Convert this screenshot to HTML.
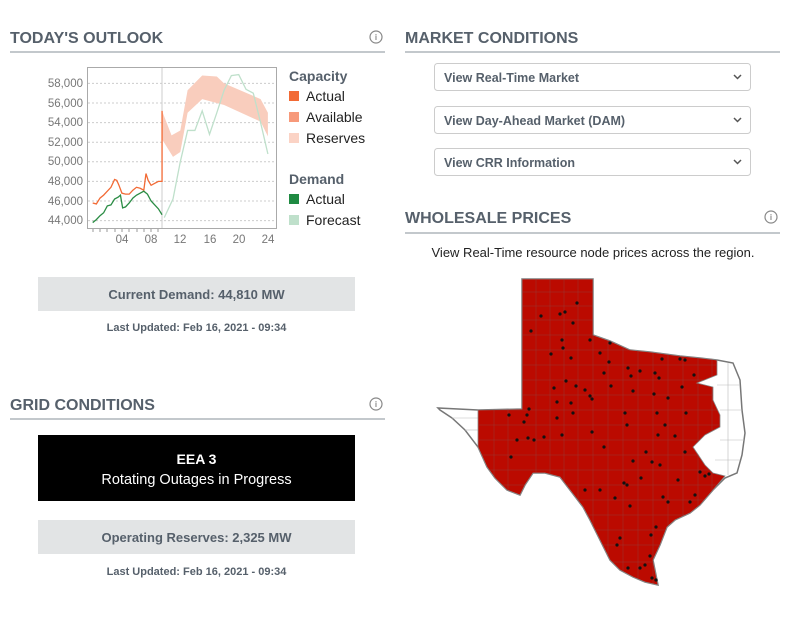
<!DOCTYPE html>
<html><head><meta charset="utf-8"><style>
html,body{margin:0;padding:0;background:#fff;width:800px;height:619px;overflow:hidden}
svg{display:block;font-family:"Liberation Sans",Arial,sans-serif}
</style></head><body>
<svg width="800" height="619" viewBox="0 0 800 619" xmlns="http://www.w3.org/2000/svg">
<defs>
<clipPath id="tx"><polygon points="522,279 593,279 593,335 610,341 630,350 650,352 680,356 700,358 717,360 717,375 697,383 713,387 713,400 720,415 720,427 705,435 693,447 705,465 713,473 725,476 713,490 700,505 690,513 675,520 667,527 660,545 653,560 658,585 645,582 633,577 620,570 610,560 600,540 590,520 583,507 570,490 560,477 545,473 533,473 525,485 520,495 507,490 495,478 487,467 478,447 478,410 522,409"/></clipPath>
</defs>
<!-- Headers -->
<g font-weight="bold" font-size="16" fill="#56606b">
<text x="10" y="43">TODAY'S OUTLOOK</text>
<text x="405" y="43">MARKET CONDITIONS</text>
<text x="405" y="223">WHOLESALE PRICES</text>
<text x="10" y="410">GRID CONDITIONS</text>
</g>
<g stroke="#c3c8cc" stroke-width="2">
<line x1="10" y1="52" x2="385" y2="52"/>
<line x1="405" y1="52" x2="780" y2="52"/>
<line x1="405" y1="233" x2="780" y2="233"/>
<line x1="10" y1="419" x2="385" y2="419"/>
</g>
<g fill="none" stroke="#888" stroke-width="1.2">
<circle cx="376" cy="37" r="6"/><circle cx="771" cy="217" r="6"/><circle cx="376" cy="404" r="6"/>
</g>
<g fill="#888" font-size="8" text-anchor="middle" font-weight="bold">
<text x="376" y="40">i</text><text x="771" y="220">i</text><text x="376" y="407">i</text>
</g>

<!-- Chart -->
<rect x="87.5" y="67.5" width="189" height="161" fill="none" stroke="#aaa"/>
<g stroke="#ccc" stroke-dasharray="2,2">
<line x1="88" y1="83.4" x2="276" y2="83.4"/><line x1="88" y1="103" x2="276" y2="103"/>
<line x1="88" y1="122.6" x2="276" y2="122.6"/><line x1="88" y1="142.2" x2="276" y2="142.2"/>
<line x1="88" y1="161.8" x2="276" y2="161.8"/><line x1="88" y1="181.4" x2="276" y2="181.4"/>
<line x1="88" y1="201" x2="276" y2="201"/><line x1="88" y1="220.6" x2="276" y2="220.6"/>
</g>
<line x1="162" y1="68" x2="162" y2="228" stroke="#ccc"/>
<g font-size="11.5" fill="#777" text-anchor="end">
<text x="83" y="87">58,000</text><text x="83" y="107">56,000</text><text x="83" y="126">54,000</text>
<text x="83" y="146">52,000</text><text x="83" y="165">50,000</text><text x="83" y="185">48,000</text>
<text x="83" y="205">46,000</text><text x="83" y="224">44,000</text>
</g>
<g font-size="11.5" fill="#777" text-anchor="middle">
<text x="122" y="243">04</text><text x="151" y="243">08</text><text x="180" y="243">12</text>
<text x="210" y="243">16</text><text x="239" y="243">20</text><text x="268" y="243">24</text>
</g>
<g stroke="#999"><line x1="93" y1="229" x2="93" y2="232"/><line x1="100" y1="229" x2="100" y2="232"/><line x1="107" y1="229" x2="107" y2="232"/><line x1="115" y1="229" x2="115" y2="232"/><line x1="122" y1="229" x2="122" y2="232"/><line x1="129" y1="229" x2="129" y2="232"/><line x1="137" y1="229" x2="137" y2="232"/><line x1="144" y1="229" x2="144" y2="232"/><line x1="151" y1="229" x2="151" y2="232"/><line x1="158" y1="229" x2="158" y2="232"/></g>
<g transform="translate(92.7,220.6) scale(7.3,-9.8)">
<polygon fill="#f9cdbd" points="9.5,11.2 10.8,8.7 12,9.2 13,13.3 15,14.8 17,14.7 18,14 23,12.4 24,11 24,8.6 23,10.1 18,11.8 15,12.4 13,11 12,7 11,6.5 9.5,8.3"/>
<polyline fill="none" stroke="#bfe0cb" stroke-width="1.3" vector-effect="non-scaling-stroke" points="9.8,0.3 11,2.2 12,6 13,9.2 14,9.2 15,11.2 16,8.8 17,11 18,13.3 19,14.8 20,14.9 21,13.4 22,13 23,10 24,6.8"/>
<polyline fill="none" stroke="#f26a35" stroke-width="1.3" vector-effect="non-scaling-stroke" points="0,1.8 0.5,1.7 1,2.3 1.5,2.6 2,3 2.5,3.4 3,4.2 3.3,4.1 3.6,3.6 4,2.8 4.5,2.7 5,2.7 5.5,3.1 6,3.4 6.5,3.3 7,3.1 7.3,4.8 7.6,4.1 8,3.6 8.5,3.8 9,4 9.5,4 9.5,11.2"/>
<polyline fill="none" stroke="#2a8c44" stroke-width="1.3" vector-effect="non-scaling-stroke" points="0,-0.2 0.5,0.1 1,0.5 1.5,0.8 2,1.5 2.5,1.6 3,2.2 3.5,2.4 3.8,2.6 4.1,1.3 4.5,1.4 5,1.8 5.5,2.3 6,2.6 6.5,2.8 7,3 7.5,2.7 8,2 8.5,1.6 9,1.2 9.5,0.6"/>
</g>
<g font-size="14">
<text x="289" y="81" font-weight="bold" fill="#56606b">Capacity</text>
<rect x="289" y="91" width="10" height="10" fill="#f26a35"/><text x="306" y="101" fill="#222">Actual</text>
<rect x="289" y="112" width="10" height="10" fill="#f7997a"/><text x="306" y="122" fill="#222">Available</text>
<rect x="289" y="133" width="10" height="10" fill="#fbd3c5"/><text x="306" y="143" fill="#222">Reserves</text>
<text x="289" y="184" font-weight="bold" fill="#56606b">Demand</text>
<rect x="289" y="194" width="10" height="10" fill="#1f8a42"/><text x="306" y="204" fill="#222">Actual</text>
<rect x="289" y="215" width="10" height="10" fill="#bfe0cb"/><text x="306" y="225" fill="#222">Forecast</text>
</g>

<!-- Left boxes -->
<rect x="38" y="277" width="317" height="34" fill="#e2e4e5"/>
<text x="196.5" y="299" text-anchor="middle" font-size="13" font-weight="bold" fill="#56606b">Current Demand: 44,810 MW</text>
<text x="196.5" y="331" text-anchor="middle" font-size="11" font-weight="bold" fill="#56606b">Last Updated: Feb 16, 2021 - 09:34</text>
<rect x="38" y="435" width="317" height="66" fill="#000"/>
<text x="196.5" y="464" text-anchor="middle" font-size="14" font-weight="bold" fill="#fff">EEA 3</text>
<text x="196.5" y="484" text-anchor="middle" font-size="14.5" fill="#fff">Rotating Outages in Progress</text>
<rect x="38" y="520" width="317" height="34" fill="#e2e4e5"/>
<text x="196.5" y="542" text-anchor="middle" font-size="13" font-weight="bold" fill="#56606b">Operating Reserves: 2,325 MW</text>
<text x="196.5" y="575" text-anchor="middle" font-size="11" font-weight="bold" fill="#56606b">Last Updated: Feb 16, 2021 - 09:34</text>

<!-- Selects -->
<g fill="#fff" stroke="#ccc">
<rect x="434.5" y="63.5" width="316" height="27" rx="3"/>
<rect x="434.5" y="106.5" width="316" height="27" rx="3"/>
<rect x="434.5" y="148.5" width="316" height="27" rx="3"/>
</g>
<g font-size="12.5" font-weight="bold" fill="#56606b">
<text x="444" y="82">View Real-Time Market</text>
<text x="444" y="125">View Day-Ahead Market (DAM)</text>
<text x="444" y="167">View CRR Information</text>
</g>
<g fill="none" stroke="#555" stroke-width="1.5">
<polyline points="734,75 737.5,78.5 741,75"/><polyline points="734,118 737.5,121.5 741,118"/><polyline points="734,160 737.5,163.5 741,160"/>
</g>
<text x="593" y="257" text-anchor="middle" font-size="13" fill="#222">View Real-Time resource node prices across the region.</text>

<!-- Texas map -->
<polygon fill="#fff" stroke="#777" stroke-width="1.5" points="522,279 593,279 593,335 610,341 630,350 650,352 680,356 700,358 717,360 733,363 740,380 742,410 745,433 742,455 737,473 725,478 713,490 700,505 690,513 675,520 667,527 660,545 653,560 658,585 645,582 633,577 620,570 610,560 600,540 590,520 583,507 570,490 560,477 545,473 533,473 525,485 520,495 507,490 495,478 487,467 478,447 465,430 452,418 440,410 438,408 478,410 522,409"/>
<g stroke="#bbb" stroke-width="0.6" fill="none">
<line x1="452" y1="418" x2="478" y2="418"/><line x1="465" y1="430" x2="478" y2="430"/>
<line x1="717" y1="385" x2="740" y2="385"/><line x1="720" y1="410" x2="742" y2="410"/><line x1="720" y1="440" x2="744" y2="440"/><line x1="715" y1="460" x2="740" y2="460"/>
<line x1="728" y1="363" x2="728" y2="475"/>
</g>
<polygon fill="#bb0a00" stroke="#888" stroke-width="0.8" points="522,279 593,279 593,335 610,341 630,350 650,352 680,356 700,358 717,360 717,375 697,383 713,387 713,400 720,415 720,427 705,435 693,447 705,465 713,473 725,476 713,490 700,505 690,513 675,520 667,527 660,545 653,560 658,585 645,582 633,577 620,570 610,560 600,540 590,520 583,507 570,490 560,477 545,473 533,473 525,485 520,495 507,490 495,478 487,467 478,447 478,410 522,409"/>
<g stroke="#8a4a48" stroke-width="0.5" fill="none" opacity="0.7" clip-path="url(#tx)">
<line x1="470" y1="292" x2="750" y2="292"/><line x1="470" y1="306" x2="750" y2="306"/><line x1="470" y1="320" x2="750" y2="320"/>
<line x1="470" y1="335" x2="750" y2="335"/><line x1="470" y1="350" x2="750" y2="350"/><line x1="470" y1="365" x2="750" y2="365"/>
<line x1="470" y1="380" x2="750" y2="380"/><line x1="470" y1="395" x2="750" y2="395"/><line x1="470" y1="410" x2="750" y2="410"/>
<line x1="470" y1="425" x2="750" y2="425"/><line x1="470" y1="440" x2="750" y2="440"/><line x1="470" y1="455" x2="750" y2="455"/>
<line x1="470" y1="470" x2="750" y2="470"/><line x1="470" y1="485" x2="750" y2="485"/><line x1="470" y1="500" x2="750" y2="500"/>
<line x1="470" y1="515" x2="750" y2="515"/><line x1="470" y1="530" x2="750" y2="530"/><line x1="470" y1="545" x2="750" y2="545"/><line x1="470" y1="562" x2="750" y2="562"/>
<line x1="494" y1="270" x2="494" y2="600"/><line x1="508" y1="270" x2="508" y2="600"/>
<line x1="536" y1="270" x2="536" y2="600"/><line x1="550" y1="270" x2="550" y2="600"/><line x1="564" y1="270" x2="564" y2="600"/>
<line x1="578" y1="270" x2="578" y2="600"/><line x1="593" y1="270" x2="593" y2="600"/><line x1="608" y1="270" x2="608" y2="600"/>
<line x1="623" y1="270" x2="623" y2="600"/><line x1="638" y1="270" x2="638" y2="600"/><line x1="653" y1="270" x2="653" y2="600"/>
<line x1="668" y1="270" x2="668" y2="600"/><line x1="683" y1="270" x2="683" y2="600"/><line x1="698" y1="270" x2="698" y2="600"/><line x1="712" y1="270" x2="712" y2="600"/>
</g>
<g fill="#111">
<circle cx="541" cy="316" r="1.6"/><circle cx="560" cy="314" r="1.6"/><circle cx="565" cy="312" r="1.6"/><circle cx="577" cy="303" r="1.6"/><circle cx="573" cy="323" r="1.6"/><circle cx="531" cy="331" r="1.6"/>
<circle cx="562" cy="340" r="1.6"/><circle cx="563" cy="348" r="1.6"/><circle cx="571" cy="358" r="1.6"/><circle cx="551" cy="354" r="1.6"/><circle cx="590" cy="340" r="1.6"/><circle cx="610" cy="343" r="1.6"/>
<circle cx="600" cy="353" r="1.6"/><circle cx="609" cy="362" r="1.6"/><circle cx="604" cy="373" r="1.6"/><circle cx="628" cy="368" r="1.6"/><circle cx="640" cy="371" r="1.6"/><circle cx="631" cy="376" r="1.6"/>
<circle cx="655" cy="373" r="1.6"/><circle cx="662" cy="359" r="1.6"/><circle cx="680" cy="359" r="1.6"/><circle cx="685" cy="360" r="1.6"/><circle cx="694" cy="375" r="1.6"/><circle cx="659" cy="378" r="1.6"/>
<circle cx="554" cy="388" r="1.6"/><circle cx="566" cy="381" r="1.6"/><circle cx="576" cy="386" r="1.6"/><circle cx="585" cy="390" r="1.6"/><circle cx="590" cy="396" r="1.6"/><circle cx="592" cy="399" r="1.6"/>
<circle cx="571" cy="403" r="1.6"/><circle cx="557" cy="402" r="1.6"/><circle cx="611" cy="386" r="1.6"/><circle cx="633" cy="391" r="1.6"/><circle cx="654" cy="394" r="1.6"/><circle cx="668" cy="398" r="1.6"/>
<circle cx="682" cy="387" r="1.6"/><circle cx="529" cy="409" r="1.6"/><circle cx="527" cy="415" r="1.6"/><circle cx="509" cy="415" r="1.6"/><circle cx="524" cy="422" r="1.6"/><circle cx="557" cy="418" r="1.6"/>
<circle cx="573" cy="413" r="1.6"/><circle cx="625" cy="413" r="1.6"/><circle cx="627" cy="425" r="1.6"/><circle cx="657" cy="413" r="1.6"/><circle cx="686" cy="413" r="1.6"/><circle cx="665" cy="425" r="1.6"/>
<circle cx="517" cy="440" r="1.6"/><circle cx="528" cy="438" r="1.6"/><circle cx="534" cy="440" r="1.6"/><circle cx="544" cy="437" r="1.6"/><circle cx="562" cy="435" r="1.6"/><circle cx="592" cy="432" r="1.6"/>
<circle cx="511" cy="457" r="1.6"/><circle cx="604" cy="447" r="1.6"/><circle cx="658" cy="435" r="1.6"/><circle cx="675" cy="436" r="1.6"/><circle cx="685" cy="452" r="1.6"/><circle cx="660" cy="465" r="1.6"/>
<circle cx="646" cy="452" r="1.6"/><circle cx="652" cy="462" r="1.6"/><circle cx="633" cy="461" r="1.6"/><circle cx="624" cy="483" r="1.6"/><circle cx="627" cy="485" r="1.6"/><circle cx="641" cy="478" r="1.6"/>
<circle cx="585" cy="490" r="1.6"/><circle cx="600" cy="490" r="1.6"/><circle cx="615" cy="498" r="1.6"/><circle cx="630" cy="506" r="1.6"/><circle cx="663" cy="497" r="1.6"/><circle cx="678" cy="480" r="1.6"/>
<circle cx="700" cy="472" r="1.6"/><circle cx="705" cy="476" r="1.6"/><circle cx="709" cy="474" r="1.6"/><circle cx="695" cy="495" r="1.6"/><circle cx="690" cy="502" r="1.6"/><circle cx="668" cy="502" r="1.6"/>
<circle cx="656" cy="527" r="1.6"/><circle cx="651" cy="535" r="1.6"/><circle cx="620" cy="538" r="1.6"/><circle cx="617" cy="545" r="1.6"/><circle cx="650" cy="556" r="1.6"/><circle cx="628" cy="568" r="1.6"/>
<circle cx="640" cy="568" r="1.6"/><circle cx="652" cy="578" r="1.6"/><circle cx="656" cy="580" r="1.6"/><circle cx="645" cy="565" r="1.6"/>
</g>
</svg>
</body></html>
